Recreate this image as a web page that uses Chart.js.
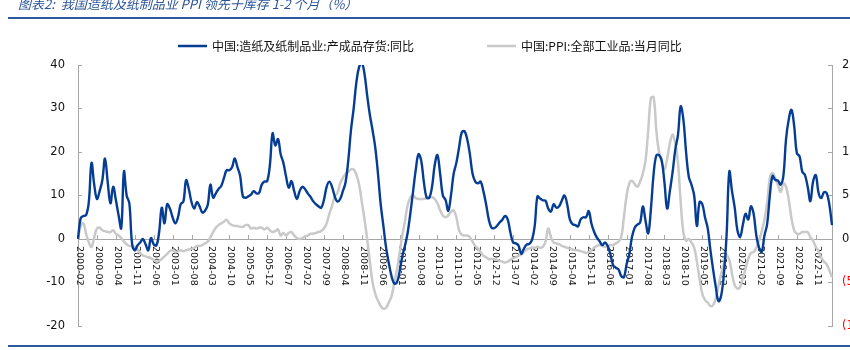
<!DOCTYPE html>
<html>
<head>
<meta charset="utf-8">
<script src="https://cdn.jsdelivr.net/npm/chart.js@4"></script>
<style>
  html, body { margin: 0; padding: 0; background: #ffffff; overflow: hidden; }
  #wrap { position: relative; width: 850px; height: 350px; overflow: hidden; }
  #c { position: absolute; left: 0; top: 0; }
</style>
</head>
<body>
<div id="wrap"><canvas id="c" width="880" height="350"></canvas></div>
<script>
// ---- data ---------------------------------------------------------------
const titleText = '图表2:  我国造纸及纸制品业 PPI 领先于库存 1-2 个月（%）';
const seriesNames = ['中国:造纸及纸制品业:产成品存货:同比', '中国:PPI:全部工业品:当月同比'];

// monthly categories, 2000-02 .. 2023-05
const firstYear = 2000, firstMonth = 2, monthCount = 280;
const months = [];
for (let k = 0; k < monthCount; k++) {
  const m = firstMonth - 1 + k;
  months.push((firstYear + Math.floor(m / 12)) + '-' + String(m % 12 + 1).padStart(2, '0'));
}
const labelEvery = 7;

// paper products finished-goods inventory, YoY %
const inventoryYoY = [
  0, 4.8, 5.3, 5.5, 8.5, 17.5, 12.5, 9.2, 11, 13.5,
  18.5, 13, 8.2, 12, 9, 5.5, 2.5, 15.5, 10, 8.2,
  -1, -2.6, -1.5, -0.8, 0, -1.2, -2.6, 0.2, -1.2, -1.5,
  1.5, 7.2, 3.6, 8, 7, 5, 3.6, 5, 8, 8.6,
  13.5, 11.5, 8.5, 7, 8.5, 7.5, 6.1, 6.5, 7.8, 12.5,
  9.5, 10.5, 11.5, 12.2, 14, 15.8, 15.8, 16.5, 18.5, 16.5,
  14.5, 9.8, 9.5, 9.8, 10.2, 11, 10.5, 10.6, 12.5, 13.2,
  13.3, 17, 24.3, 21.5, 23, 19.5, 17.5, 14.3, 11.8, 13.3,
  11, 9.2, 11, 12, 11.5, 10.5, 9.7, 8.7, 8, 7.5,
  7.2, 9, 12, 13.2, 12, 9.8, 8.6, 9.2, 11, 13,
  18, 25, 30, 36, 39.5, 40.5, 38, 33, 28.5, 25,
  21, 15, 8, 3, -2, -5.5, -8.5, -10.2, -10, -7.5,
  -4, -1.5, 1.5, 6, 11, 16, 19.5, 18, 13, 9.5,
  9.5, 12, 17, 19.3, 15, 10, 9, 6.5, 10, 15,
  17.5, 21, 24.5, 24.8, 23, 19.5, 15, 13.2, 12.8, 13.2,
  11, 8, 4.5, 2.6, 2.5, 3, 3.8, 4.4, 5.3, 4.5,
  1.5, -0.8, -1, -1.5, -3.4, -2.2, -1.3, -1.1, -0.2, 3,
  9.8, 9.3, 8.9, 8.8, 7, 6.3, 8, 7.2, 7.5, 8.8,
  10, 8, 4.5, 3.4, 3.2, 2.9, 4.5, 5, 5, 6.4,
  3.5, 1.6, 0.3, -0.5, -1.4, -0.8, -1.6, -3.5, -6, -6.6,
  -7, -8.5, -8.8, -5.8, -3.5, 0.5, 2.6, 3.3, 3.8, 7.5,
  4.2, 1.3, 7, 15, 19.2, 19.3, 18, 13, 7, 11,
  15.3, 20.5, 23.9, 30.5, 27.5, 20, 14.3, 12.5, 10, 3,
  8.5, 8, 5, 2.5, -2.5, -7, -11, -14.3, -13, -8,
  1, 15.5, 11, 7.2, 2, 0.5, 3.2, 5.8, 4.5, 7.5,
  5.8, 0.8, -2, -3, 0.8, 3.4, 10, 14.5, 13.6, 13.4,
  12.5, 14.5, 23, 27.5, 29.7, 26, 19.7, 19, 15.5, 14.7,
  12, 8.7, 13.2, 14.7, 10.7, 9.4, 10.7, 10.6, 8, 3.2
];

// PPI, YoY % (right axis)
const ppiYoY = [
  0, 1.5, 1.8, 0.6, -0.4, -0.9, 0.2, 1.2, 1.3, 1.0,
  0.9, 0.8, 0.8, 1.0, 0.6, 0.4, 0.1, -0.3, -0.6, -0.8,
  -0.8, -0.9, -1.2, -1.6, -1.9, -2.0, -2.1, -2.2, -2.4, -2.6,
  -2.5, -2.3, -2.0, -1.7, -1.4, -1.3, -1.5, -1.4, -1.3, -1.4,
  -1.3, -1.2, -1.1, -1.0, -0.8, -0.8, -0.7, -0.5, -0.3, 0.2,
  0.8, 1.3, 1.6, 1.8, 2.0, 2.2, 1.8, 1.6, 1.5, 1.5,
  1.4, 1.4, 1.6, 1.6, 1.2, 1.3, 1.2, 1.3, 1.3, 1.1,
  1.3, 1.0, 0.8, 0.9, 1.1, 0.4, 0.7, 0.4, 0.7, 0.8,
  0.4, 0.1, 0, 0.1, 0.3, 0.4, 0.6, 0.6, 0.7, 0.8,
  0.9, 1.2, 1.8, 2.9, 3.8, 4.9, 5.3, 6.4, 7.0, 7.5,
  7.7, 8.0, 8.0, 7.4, 6.3, 4.3, 2.3, 0, -2.6, -5.0,
  -6.3, -7.1, -7.7, -8.0, -7.9, -7.3, -6.6, -5.1, -3.6, -1.6,
  0.4, 2.1, 3.9, 4.8, 5.0, 4.7, 4.6, 4.6, 4.6, 4.7,
  4.8, 4.8, 4.6, 4.1, 3.3, 2.7, 2.5, 2.7, 3.1, 3.3,
  2.5, 1.0, 0.5, 0.4, 0.4, 0.2, -0.3, -0.8, -1.1, -1.5,
  -1.9, -2.1, -2.3, -2.3, -2.3, -2.4, -2.5, -2.6, -2.7, -2.6,
  -2.4, -2.2, -2.1, -1.9, -1.8, -1.5, -1.2, -1.1, -1.0, -1.0,
  -0.9, -1.0, -0.9, -0.3, 1.2, 0.2, -0.4, -0.5, -0.6, -0.8,
  -0.9, -1.0, -1.1, -1.2, -1.3, -1.3, -1.4, -1.5, -1.6, -1.5,
  -1.3, -1.0, -0.8, -0.7, -0.8, -0.9, -0.8, -0.7, -0.7, -0.5,
  -0.3, 0.2, 2.5, 5.0, 6.4, 6.7, 6.3, 6.0, 6.6, 7.5,
  9.0, 12.5, 16.2, 16.3, 12.5, 10.0, 8.9, 8.0, 9.2, 11.0,
  12.0, 11.0, 8.8, 4.3, 0.8, -0.2, 0, -0.4, -1.0, -2.6,
  -4.6, -6.3, -7.0, -7.3, -7.7, -7.6, -6.8, -5.4, -4.0, -2.8,
  -1.9, -2.4, -4.0, -5.3, -5.7, -5.5, -4.5, -3.4, -2.3, -1.6,
  -1.5, -1.0, -0.2, 0.9, 2.2, 4.2, 7.0, 7.6, 7.0, 6.2,
  5.4, 6.4, 6.0, 4.5, 2.4, 1.0, 0.6, 0.6, 0.8, 0.8,
  0.8, 0.2, -0.2, -0.9, -1.4, -2.1, -2.6, -2.9, -3.6, -4.4
];

// axis ranges and ticks
const leftTicks = [-20, -10, 0, 10, 20, 30, 40];
const rightTicks = [-10, -5, 0, 5, 10, 15, 20];

// ---- styling --------------------------------------------------------------
const BLUE = '#063d94';
const GREY = '#c9c9c9';
const AXIS = '#a6a6a6';
const RULE = '#3058a0';
const NUM_FONT = '"DejaVu Sans", Verdana, sans-serif';
const CJK_FONT = '"Noto Sans CJK SC", "Noto Sans", sans-serif';

// page furniture: heading, rules, legend, rotated month labels
const decor = {
  id: 'decor',
  beforeDraw(chart) {
    const ctx = chart.ctx;
    ctx.save();
    ctx.fillStyle = '#ffffff';
    ctx.fillRect(0, 0, chart.width, chart.height);

    ctx.font = 'italic 13px ' + CJK_FONT;
    ctx.fillStyle = '#2a5298';
    ctx.textBaseline = 'middle';
    ctx.textAlign = 'left';
    ctx.fillText(titleText, 18, 4);

    ctx.fillStyle = RULE;
    ctx.fillRect(8, 17, chart.width, 2);
    ctx.fillRect(8, 345, chart.width, 2);

    // legend
    const items = chart.data.datasets.map(d => ({ text: d.label, color: d.borderColor }));
    const starts = [178, 487];
    ctx.font = '12px ' + CJK_FONT;
    items.forEach((it, k) => {
      const x = starts[k];
      ctx.strokeStyle = it.color;
      ctx.lineWidth = 2.5;
      ctx.beginPath();
      ctx.moveTo(x, 46);
      ctx.lineTo(x + 29, 46);
      ctx.stroke();
      ctx.fillStyle = '#111111';
      ctx.textBaseline = 'middle';
      ctx.fillText(it.text, x + 34, 46);
    });
    ctx.restore();
  },
  beforeDatasetsDraw(chart) {
    const ctx = chart.ctx;
    const xs = chart.scales.x;
    const y0 = chart.scales.y.getPixelForValue(0);
    ctx.save();
    ctx.font = '9.5px ' + NUM_FONT;
    ctx.fillStyle = '#111111';
    ctx.strokeStyle = AXIS;
    ctx.lineWidth = 1;
    chart.data.labels.forEach((lab, i) => {
      if (i % labelEvery !== 0) return;
      const x = Math.round(xs.getPixelForValue(i)) + 0.5;
      ctx.beginPath();
      ctx.moveTo(x, y0 - 4);
      ctx.lineTo(x, y0);
      ctx.stroke();
      ctx.save();
      ctx.translate(x + 1, y0 + 7);
      ctx.rotate(Math.PI / 2);
      ctx.textAlign = 'left';
      ctx.textBaseline = 'middle';
      ctx.fillText(lab, 0, 0);
      ctx.restore();
    });
    ctx.restore();
  }
};

new Chart(document.getElementById('c'), {
  type: 'line',
  data: {
    labels: months,
    datasets: [
      {
        label: seriesNames[0],
        data: inventoryYoY,
        yAxisID: 'y',
        borderColor: BLUE,
        borderWidth: 2.4,
        pointRadius: 0,
        tension: 0.4,
        fill: false
      },
      {
        label: seriesNames[1],
        data: ppiYoY,
        yAxisID: 'y1',
        borderColor: GREY,
        borderWidth: 2.5,
        pointRadius: 0,
        tension: 0.4,
        fill: false
      }
    ]
  },
  options: {
    responsive: false,
    animation: false,
    devicePixelRatio: 1,
    layout: { padding: { top: 65, bottom: 24, left: 0, right: 0 } },
    plugins: { legend: { display: false }, tooltip: { enabled: false } },
    scales: {
      x: {
        type: 'category',
        position: { y: 0 },
        grid: { display: false },
        border: { display: true, color: AXIS, width: 1 },
        ticks: { display: false }
      },
      y: {
        position: 'left',
        min: leftTicks[0],
        max: leftTicks[leftTicks.length - 1],
        afterBuildTicks(s) { s.ticks = leftTicks.map(v => ({ value: v })); },
        afterFit(s) { s.width = 78; },
        grid: { display: true, drawOnChartArea: false, drawTicks: true, tickLength: -4, color: AXIS },
        border: { display: true, color: AXIS, width: 1 },
        ticks: {
          padding: 17,
          color: '#111111',
          font: { family: NUM_FONT, size: 11.5 },
          callback: v => String(v)
        }
      },
      y1: {
        position: 'right',
        min: rightTicks[0],
        max: rightTicks[rightTicks.length - 1],
        afterBuildTicks(s) { s.ticks = rightTicks.map(v => ({ value: v })); },
        afterFit(s) { s.width = 48; },
        grid: { display: true, drawOnChartArea: false, drawTicks: true, tickLength: -4, color: AXIS },
        border: { display: true, color: AXIS, width: 1 },
        ticks: {
          padding: 14,
          font: { family: NUM_FONT, size: 11.5 },
          color: ctx => (ctx.tick && ctx.tick.value < 0 ? '#ff0000' : '#111111'),
          callback: v => (v < 0 ? '(' + Math.abs(v) + ')' : String(v))
        }
      }
    }
  },
  plugins: [decor]
});
</script>
</body>
</html>
